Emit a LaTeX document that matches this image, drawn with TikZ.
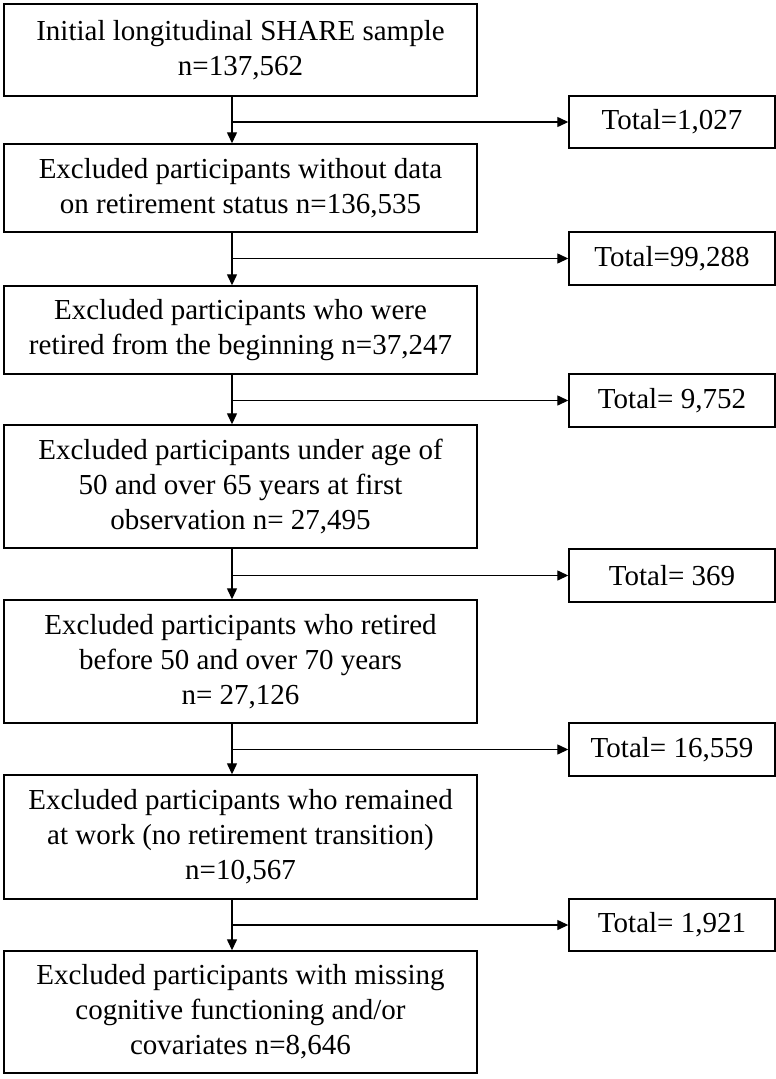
\documentclass[tikz,border=0pt]{standalone}
\usepackage{fontspec}
\setmainfont{Liberation Serif}
\usetikzlibrary{arrows.meta}
\begin{document}
\begin{tikzpicture}[x=1pt,y=-1pt,
  mainbox/.style={draw, line width=1.4pt, minimum width=473pt, inner sep=0pt, align=center, font=\fontsize{29}{35}\selectfont},
  sidebox/.style={draw, line width=1.4pt, minimum width=206pt, minimum height=53pt, inner sep=0pt, align=center, font=\fontsize{29}{35}\selectfont},
  arr/.style={line width=1.3pt, -{Triangle[length=11pt,width=10pt]}}]
\useasboundingbox (0,0) rectangle (776,1079);
\node[mainbox, minimum height=92pt] (b1) at (240.5,50) {Initial longitudinal SHARE sample\\n=137,562};
\node[mainbox, minimum height=88pt] (b2) at (240.5,188) {Excluded participants without data\\on retirement status n=136,535};
\node[mainbox, minimum height=88pt] (b3) at (240.5,330) {Excluded participants who were\\retired from the beginning n=37,247};
\node[mainbox, minimum height=123pt] (b4) at (240.5,486.5) {Excluded participants under age of\\50 and over 65 years at first\\observation n= 27,495};
\node[mainbox, minimum height=123pt] (b5) at (240.5,661.5) {Excluded participants who retired\\before 50 and over 70 years\\n= 27,126};
\node[mainbox, minimum height=124pt] (b6) at (240.5,837) {Excluded participants who remained\\at work (no retirement transition)\\n=10,567};
\node[mainbox, minimum height=122pt] (b7) at (240.5,1012) {Excluded participants with missing\\cognitive functioning and/or\\covariates n=8,646};
\node[sidebox, minimum height=52pt] (r1) at (672,122) {Total=1,027};
\node[sidebox] (r2) at (672,258.5) {Total=99,288};
\node[sidebox] (r3) at (672,400.5) {Total= 9,752};
\node[sidebox] (r4) at (672,575.5) {Total= 369};
\node[sidebox] (r5) at (672,749.5) {Total= 16,559};
\node[sidebox, minimum height=52pt] (r6) at (672,925) {Total= 1,921};
\coordinate (ax) at (232,0);
\foreach \a/\b/\r in {b1/b2/r1, b2/b3/r2, b3/b4/r3, b4/b5/r4, b5/b6/r5, b6/b7/r6}{
  \draw[arr] (\a.south -| ax) -- (\b.north -| ax);
  \draw[arr] (\r.west -| ax) -- (\r.west);
}
\end{tikzpicture}
\end{document}
